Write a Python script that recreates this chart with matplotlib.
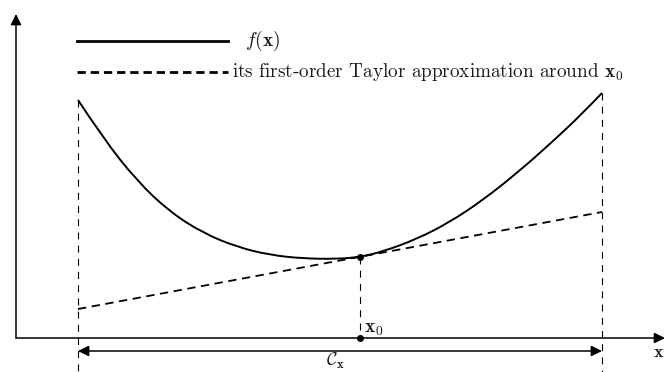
import matplotlib
matplotlib.use("Agg")
import matplotlib.pyplot as plt
from matplotlib.path import Path
from matplotlib.patches import PathPatch

plt.rcParams['mathtext.fontset'] = 'cm'
plt.rcParams['lines.scale_dashes'] = False

# diagram units: origin at the crossing of the two axes
# convex function f sampled along the domain C_x
curve_u = [62, 87, 121, 154, 187, 221, 254, 287, 321, 344, 367, 401, 434, 467, 501, 534, 567, 586]
curve_v = [238, 200, 157, 126, 105, 91, 83, 79.5, 79, 81, 86.5, 99, 116, 138, 165, 194, 225, 245]

# expansion point x0 and f(x0)
x0 = 344
f_x0 = 81

# first-order Taylor line, evaluated at the ends of the domain
taylor_u = [62, 586]
taylor_v = [29, 126]

# domain C_x limits
dom_lo, dom_hi = 62, 586

fig = plt.figure(figsize=(6.65, 3.72), dpi=100)
ax = fig.add_axes([0, 0, 1, 1])
ax.set_xlim(-16, 649)
ax.set_ylim(-34, 338)
ax.axis('off')

ink = '#1a1a1a'

# coordinate axes with arrows
ax.annotate('', xy=(0, 324), xytext=(0, 0),
            arrowprops=dict(arrowstyle='-|>', lw=1.1, color='k', mutation_scale=16, shrinkA=0, shrinkB=0))
ax.annotate('', xy=(649, 0), xytext=(0, 0),
            arrowprops=dict(arrowstyle='-|>', lw=1.1, color='k', mutation_scale=16, shrinkA=0, shrinkB=0))

# smooth the sampled curve with quadratic Bezier pieces (samples act as control points)
pts = list(zip(curve_u, curve_v))
verts = [pts[0]]
codes = [Path.MOVETO]
for i in range(1, len(pts) - 1):
    nxt = pts[i + 1] if i + 1 == len(pts) - 1 else ((pts[i][0] + pts[i + 1][0]) / 2,
                                                  (pts[i][1] + pts[i + 1][1]) / 2)
    verts += [pts[i], nxt]
    codes += [Path.CURVE3, Path.CURVE3]
ax.add_patch(PathPatch(Path(verts, codes), facecolor='none', edgecolor='k', lw=1.4))

# tangent line
ax.plot(taylor_u, taylor_v, color='k', lw=1.3, dashes=(6, 4))

# vertical guides at domain ends and at x0
ax.plot([dom_lo, dom_lo], [curve_v[0], -34], color='k', lw=0.8, dashes=(5, 4.5))
ax.plot([dom_hi, dom_hi], [curve_v[-1], -34], color='k', lw=0.8, dashes=(5, 4.5))
ax.plot([x0, x0], [f_x0, 0], color='k', lw=0.8, dashes=(5, 4.5))

ax.plot([x0, x0], [f_x0, 0], 'o', color='k', ms=4)

# domain extent
ax.annotate('', xy=(dom_lo, -13), xytext=(dom_hi, -13),
            arrowprops=dict(arrowstyle='<|-|>', lw=1.1, color='k', mutation_scale=16, shrinkA=0, shrinkB=0))

ax.text(x0 + 4, 0, r'$\mathbf{x}_0$', fontsize=14, ha='left', va='bottom', color=ink)
ax.text(319, -28, r'$\mathcal{C}_{\mathbf{x}}$', fontsize=13, ha='center', va='baseline', color=ink)
ax.text(648, -14, r'$\mathbf{x}$', fontsize=13, ha='right', va='center', color=ink)

# legend drawn by hand
ax.plot([61, 212], [297, 297], color='k', lw=2.0)
ax.text(229, 297, r'$f(\mathbf{x})$', fontsize=14, ha='left', va='center', color=ink)
ax.plot([61, 212], [266, 266], color='k', lw=2.0, dashes=(6, 3.5))
ax.text(216, 266, r'its first-order Taylor approximation around $\mathbf{x}_0$',
        family='cmr10', fontsize=13.8, ha='left', va='center', color=ink)

fig.savefig('out.png', dpi=100)
